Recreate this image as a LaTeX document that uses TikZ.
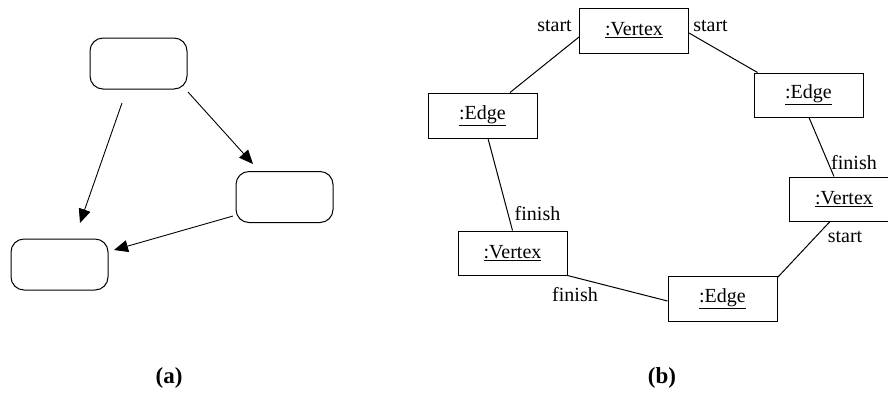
\documentclass[tikz,border=0pt]{standalone}
\usepackage{fontspec}
\setmainfont{Liberation Serif}
\usetikzlibrary{arrows.meta}
\begin{document}
\begin{tikzpicture}[x=1pt,y=-1pt,
  rbox/.style={draw, line width=1pt, rounded corners=13pt, minimum width=97pt, minimum height=51pt, inner sep=0pt},
  obj/.style={draw, line width=1pt, minimum width=109pt, minimum height=45pt, inner sep=0pt, font=\fontsize{20}{24}\selectfont},
  role/.style={font=\fontsize{20}{24}\selectfont, inner sep=0pt},
  captxt/.style={font=\fontsize{23}{27}\selectfont\bfseries, inner sep=0pt},
  arr/.style={-{Triangle[length=14pt,width=12pt]}, line width=0.9pt},
  link/.style={line width=1pt}]
\useasboundingbox (0,0) rectangle (888,392);
\clip (0,0) rectangle (888,392);
% (a)
\node[rbox] (ta) at (138.5,63.5) {};
\node[rbox] (ra) at (284.5,197) {};
\node[rbox] (ba) at (59.5,264.5) {};
\coordinate (a1s) at (122,103);
\coordinate (a1e) at (80,223);
\coordinate (a2s) at (188,92);
\coordinate (a2e) at (253,164);
\coordinate (a3s) at (233,216);
\coordinate (a3e) at (114,250);
\draw[arr] (a1s) -- (a1e);
\draw[arr] (a2s) -- (a2e);
\draw[arr] (a3s) -- (a3e);
\node[captxt] (capa) at (169,378) {(a)};
% (b)
\node[obj] (tv) at (634,30.5) {\underline{:Vertex}};
\node[obj] (le) at (482.5,115.5) {\underline{:Edge}};
\node[obj, minimum height=44pt] (re) at (808.5,95) {\underline{:Edge}};
\node[obj, minimum width=110pt, minimum height=44pt] (rv) at (844,199) {\underline{:Vertex}};
\node[obj, minimum height=44pt] (lv) at (512.5,253) {\underline{:Vertex}};
\node[obj] (be) at (722.5,298.5) {\underline{:Edge}};
\draw[link] ([yshift=-6.5pt]tv.west) -- ([xshift=27.5pt]le.north);
\draw[link] ([yshift=-2.5pt]tv.east) -- ([xshift=4pt]re.north west);
\draw[link] ([xshift=0.5pt]re.south) -- ([xshift=-10pt]rv.north);
\draw[link] ([xshift=5.5pt]le.south) -- (lv.north);
\draw[link] (lv.south east) -- ([yshift=-2.5pt]be.west);
\draw[link] ([yshift=-2pt]be.north east) -- ([xshift=-14pt]rv.south);
\node[role] (s1) at (554.5,26) {start};
\node[role] (s2) at (710.5,26) {start};
\node[role] (f1) at (854,163) {finish};
\node[role] (f2) at (537.5,214) {finish};
\node[role] (f3) at (575,295) {finish};
\node[role] (s3) at (845,237) {start};
\node[captxt] (capb) at (662,378) {(b)};
\end{tikzpicture}
\end{document}
